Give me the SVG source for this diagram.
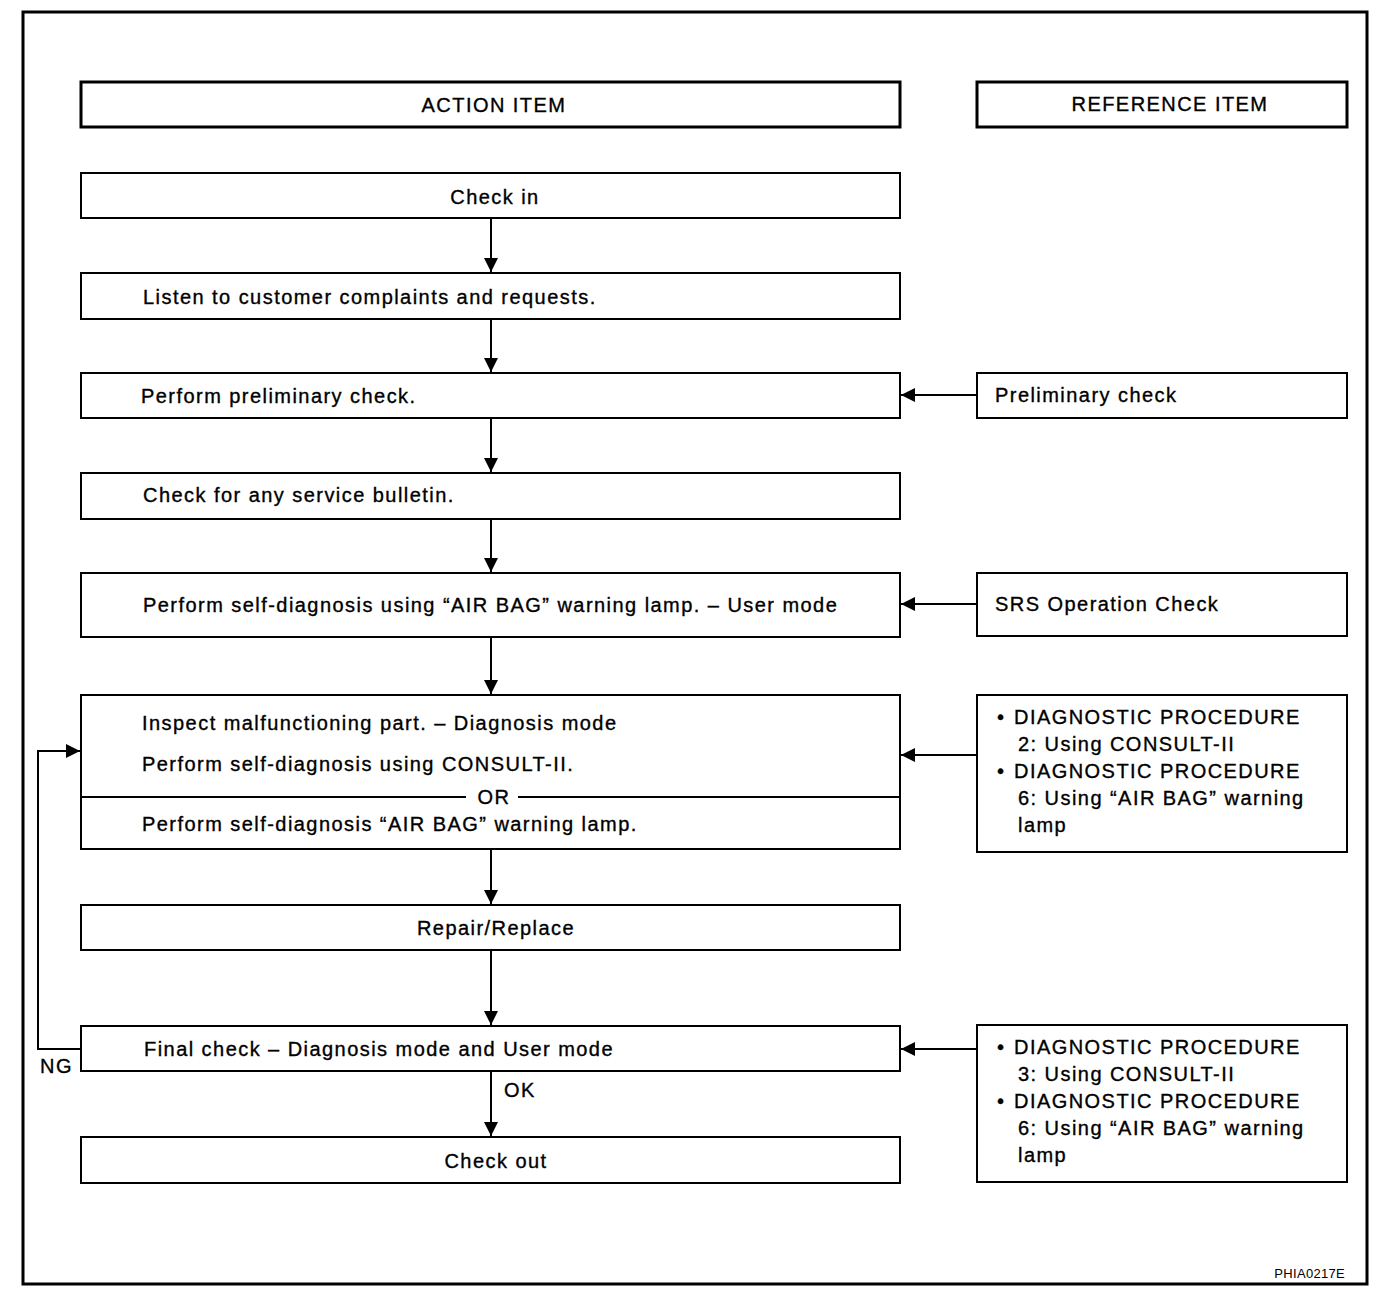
<svg xmlns="http://www.w3.org/2000/svg" width="1392" height="1304" viewBox="0 0 1392 1304">
<defs>
<marker id="ah" viewBox="0 0 10 10" refX="10" refY="5" markerWidth="14" markerHeight="14" markerUnits="userSpaceOnUse" orient="auto">
<path d="M0,0 L10,5 L0,10 z" fill="#000"/>
</marker>
<style>
.b{fill:#fff;stroke:#000;stroke-width:2}
.h{fill:#fff;stroke:#000;stroke-width:3}
.t{font-family:"Liberation Sans",Arial,sans-serif;font-size:20px;letter-spacing:1.45px;fill:#000;stroke:#000;stroke-width:0.35}
.c{text-anchor:middle}
.l{fill:none;stroke:#000;stroke-width:2}
</style>
</defs>
<rect width="1392" height="1304" fill="#fff"/>
<rect x="23" y="12" width="1344" height="1272" fill="none" stroke="#000" stroke-width="3"/>
<g id="hdr-action"><rect class="h" x="81" y="82" width="819" height="45"/><text class="t c" x="494" y="112">ACTION ITEM</text></g>
<g id="hdr-ref"><rect class="h" x="977" y="82" width="370" height="45"/><text class="t c" x="1170" y="111">REFERENCE ITEM</text></g>
<g id="n1"><rect class="b" x="81" y="173" width="819" height="45"/><text class="t c" x="495" y="204">Check in</text></g>
<g id="n2"><rect class="b" x="81" y="273" width="819" height="46"/><text class="t" x="143" y="304">Listen to customer complaints and requests.</text></g>
<g id="n3"><rect class="b" x="81" y="373" width="819" height="45"/><text class="t" x="141" y="403">Perform preliminary check.</text></g>
<g id="n4"><rect class="b" x="81" y="473" width="819" height="46"/><text class="t" x="143" y="502">Check for any service bulletin.</text></g>
<g id="n5"><rect class="b" x="81" y="573" width="819" height="64"/><text class="t" x="143" y="612">Perform self-diagnosis using “AIR BAG” warning lamp. – User mode</text></g>
<g id="n6"><rect class="b" x="81" y="695" width="819" height="154"/>
<text class="t" x="142" y="730">Inspect malfunctioning part. – Diagnosis mode</text>
<text class="t" x="142" y="771">Perform self-diagnosis using CONSULT-II.</text>
<line class="l" x1="81" y1="797" x2="466" y2="797"/><line class="l" x1="518" y1="797" x2="900" y2="797"/>
<text class="t c" x="494" y="804">OR</text>
<text class="t" x="142" y="831">Perform self-diagnosis “AIR BAG” warning lamp.</text></g>
<g id="n7"><rect class="b" x="81" y="905" width="819" height="45"/><text class="t c" x="496" y="935">Repair/Replace</text></g>
<g id="n8"><rect class="b" x="81" y="1026" width="819" height="45"/><text class="t" x="144" y="1056">Final check – Diagnosis mode and User mode</text></g>
<g id="n9"><rect class="b" x="81" y="1137" width="819" height="46"/><text class="t c" x="496" y="1168">Check out</text></g>
<g id="r1"><rect class="b" x="977" y="373" width="370" height="45"/><text class="t" x="995" y="402">Preliminary check</text></g>
<g id="r2"><rect class="b" x="977" y="573" width="370" height="63"/><text class="t" x="995" y="611">SRS Operation Check</text></g>
<g id="r3"><rect class="b" x="977" y="695" width="370" height="157"/>
<text class="t" x="997" y="724">•</text><text class="t" x="1014" y="724">DIAGNOSTIC PROCEDURE</text>
<text class="t" x="1018" y="751">2: Using CONSULT-II</text>
<text class="t" x="997" y="778">•</text><text class="t" x="1014" y="778">DIAGNOSTIC PROCEDURE</text>
<text class="t" x="1018" y="805">6: Using “AIR BAG” warning</text>
<text class="t" x="1018" y="832">lamp</text></g>
<g id="r4"><rect class="b" x="977" y="1025" width="370" height="157"/>
<text class="t" x="997" y="1054">•</text><text class="t" x="1014" y="1054">DIAGNOSTIC PROCEDURE</text>
<text class="t" x="1018" y="1081">3: Using CONSULT-II</text>
<text class="t" x="997" y="1108">•</text><text class="t" x="1014" y="1108">DIAGNOSTIC PROCEDURE</text>
<text class="t" x="1018" y="1135">6: Using “AIR BAG” warning</text>
<text class="t" x="1018" y="1162">lamp</text></g>
<g id="connectors">
<line class="l" x1="491" y1="218" x2="491" y2="272" marker-end="url(#ah)"/>
<line class="l" x1="491" y1="319" x2="491" y2="372" marker-end="url(#ah)"/>
<line class="l" x1="491" y1="418" x2="491" y2="472" marker-end="url(#ah)"/>
<line class="l" x1="491" y1="519" x2="491" y2="572" marker-end="url(#ah)"/>
<line class="l" x1="491" y1="637" x2="491" y2="694" marker-end="url(#ah)"/>
<line class="l" x1="491" y1="849" x2="491" y2="904" marker-end="url(#ah)"/>
<line class="l" x1="491" y1="950" x2="491" y2="1025" marker-end="url(#ah)"/>
<line class="l" x1="491" y1="1071" x2="491" y2="1136" marker-end="url(#ah)"/>
<line class="l" x1="977" y1="395" x2="901" y2="395" marker-end="url(#ah)"/>
<line class="l" x1="977" y1="604" x2="901" y2="604" marker-end="url(#ah)"/>
<line class="l" x1="977" y1="755" x2="901" y2="755" marker-end="url(#ah)"/>
<line class="l" x1="977" y1="1049" x2="901" y2="1049" marker-end="url(#ah)"/>
<polyline class="l" points="81,1049 38,1049 38,751 80,751" marker-end="url(#ah)"/>
<text class="t" x="40" y="1073">NG</text>
<text class="t" x="504" y="1097">OK</text>
</g>
<text x="1345" y="1278" text-anchor="end" style="font-family:'Liberation Sans',Arial,sans-serif;font-size:13px;letter-spacing:0.3px">PHIA0217E</text>
</svg>
